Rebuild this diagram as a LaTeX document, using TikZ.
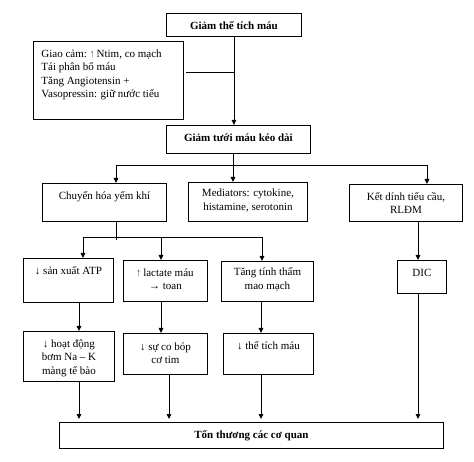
\documentclass[tikz,border=0pt]{standalone}
\usepackage{fontspec}
\setmainfont{Liberation Serif}
\usetikzlibrary{arrows.meta}
\tikzset{
  box/.style={draw, line width=0.9pt, inner sep=0pt, font=\fontsize{11}{13.5}\selectfont},
  link/.style={line width=0.9pt},
  arr/.style={link, -{Triangle[length=5pt,width=4.5pt]}},
}
\newcommand\thinup{\scalebox{0.6}[1]{↑}}
\newcommand\boxnode[7]{%
  \pgfmathsetmacro\bw{#4-#2}\pgfmathsetmacro\bh{#5-#3}%
  \node[box, anchor=north west] (#1) at (#2,#3)
    {\parbox[c][\bh pt][t]{\bw pt}{\centering\rule{0pt}{#6pt}#7\par}};}
\begin{document}
\begin{tikzpicture}[x=1pt,y=-1pt]
\useasboundingbox (0,0) rectangle (474,462);
% boxes
\boxnode{top}{166}{13}{301}{36}{16}{\textbf{Giảm thể tích máu}}
\node[box, anchor=north west] (left) at (33,41)
  {\parbox[c][78pt][t]{150pt}{\raggedright\leftskip=8pt\rule{0pt}{16pt}Giao cảm: \thinup{} Ntim, co mạch\\Tái phân bố máu\\Tăng Angiotensin +\\Vasopressin: giữ nước tiểu\par}};
\boxnode{tuoi}{166}{125}{310}{153}{16}{\textbf{Giảm tưới máu kéo dài}}
\boxnode{chuyen}{42}{183}{166}{221}{16}{Chuyển hóa yếm khí}
\boxnode{medi}{188}{182}{307}{221}{14.5}{Mediators: cytokine,\\histamine, serotonin}
\boxnode{ket}{349}{184}{462}{221}{16}{Kết dính tiểu cầu,\\RLĐM}
\boxnode{atp}{23}{258}{113}{302}{16}{↓ sản xuất ATP}
\boxnode{lact}{123}{260}{207}{301}{16}{\thinup{} lactate máu\\→ toan}
\boxnode{tang}{221}{261}{313}{301}{14.5}{Tăng tính thấm\\mao mạch}
\boxnode{dic}{397}{260}{446}{293}{16}{DIC}
\boxnode{nak}{23}{331}{114}{381}{16}{↓ hoạt động\\bơm Na – K\\màng tế bào}
\boxnode{cobop}{123}{333}{207}{374}{17}{↓ sự co bóp\\cơ tim}
\boxnode{ttm}{223}{333}{313}{374}{16}{↓ thể tích máu}
\boxnode{ton}{59}{422}{443}{448}{16}{\textbf{Tổn thương các cơ quan}}
% junction coordinates
\coordinate (lj) at (186,72);
\coordinate (b1) at (233,165);
\coordinate (h1l) at (116,165);
\coordinate (h1r) at (427,165);
\coordinate (c1) at (116,237);
\coordinate (c1t) at (116,240);
\coordinate (h2l) at (83,237);
\coordinate (h2m) at (161,237);
\coordinate (h2r) at (262,237);
\coordinate (xa) at (79,0);
\coordinate (xl) at (161,0);
\coordinate (xt) at (261,0);
\coordinate (xd) at (418,0);
\coordinate (xc) at (169,0);
% connectors
\draw[arr] (top.south) -- (top.south |- tuoi.north);
\draw[link] (lj) -- (lj -| top.south);
\draw[link] (b1 |- tuoi.south) -- (b1);
\draw[link] (h1l) -- (h1r);
\draw[arr] (h1l) -- (h1l |- chuyen.north);
\draw[arr] (b1) -- (b1 |- medi.north);
\draw[arr] (h1r) -- (h1r |- ket.north);
\draw[link] (c1 |- chuyen.south) -- (c1t);
\draw[link] (h2l) -- (h2r);
\draw[arr] (h2l) -- (h2l |- atp.north);
\draw[arr] (h2m) -- (h2m |- lact.north);
\draw[arr] (h2r) -- (h2r |- tang.north);
\draw[arr] (xa |- atp.south) -- (xa |- nak.north);
\draw[arr] (xl |- lact.south) -- (xl |- cobop.north);
\draw[arr] (xt |- tang.south) -- (xt |- ttm.north);
\draw[arr] (xd |- ket.south) -- (xd |- dic.north);
\draw[arr, shorten >=3pt] (xd |- dic.south) -- (xd |- ton.north);
\draw[arr, shorten >=3pt] (xa |- nak.south) -- (xa |- ton.north);
\draw[arr, shorten >=3pt] (xc |- cobop.south) -- (xc |- ton.north);
\draw[arr, shorten >=3pt] (xt |- ttm.south) -- (xt |- ton.north);
\end{tikzpicture}
\end{document}
